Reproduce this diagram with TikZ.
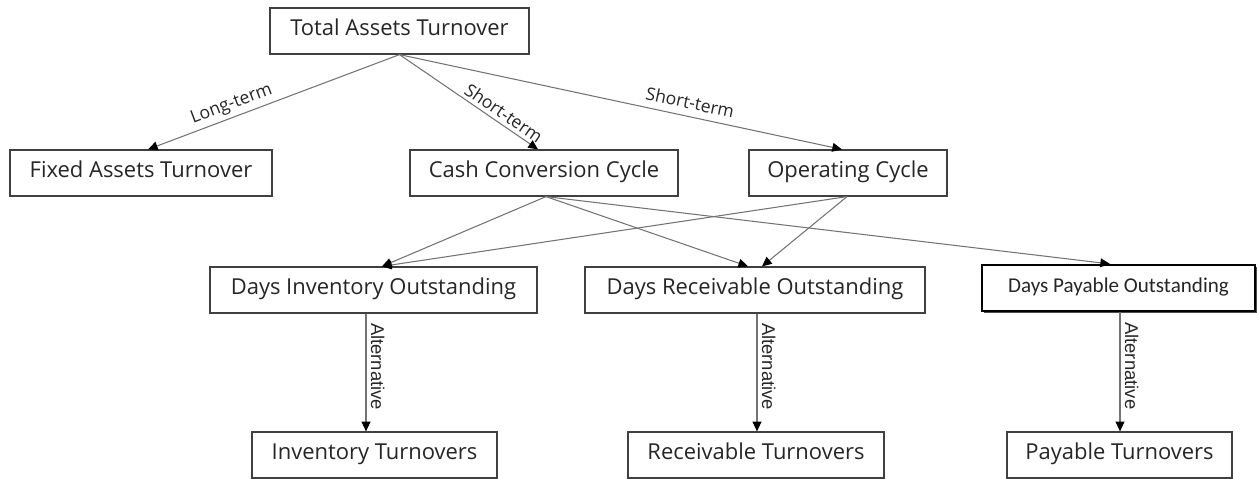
\documentclass[tikz,border=0pt]{standalone}
\usepackage{fontspec}
\setmainfont{Open Sans}
\newfontfamily\calfont{Carlito}
\newfontfamily\arialfont{Liberation Sans}
\usetikzlibrary{arrows.meta,calc,shadows}

\tikzset{
  box/.style={draw=black!75, line width=0.7pt, fill=white, inner sep=0pt,
    minimum height=0.92cm, text=black!85, text height=0.75em, text depth=0.25em,
    font=\fontsize{12.5}{14}\selectfont},
  link/.style={draw=black!55, line width=0.6pt,
    -{Triangle[length=5.5pt,width=5pt,color=black]}},
  lbl/.style={font=\fontsize{10}{12}\selectfont, text=black!85, inner sep=2pt},
  altlbl/.style={font=\arialfont\fontsize{10.5}{12}\selectfont, text=black!85,
    rotate=-90, anchor=south, inner sep=2.5pt}
}

\begin{document}
\begin{tikzpicture}[x=0.02cm, y=-0.02cm]
  \useasboundingbox (0,0) rectangle (1257,479);

  % Top of the tree
  \node[box, minimum width=5.18cm] (tat) at (399.5,31) {Total Assets Turnover};

  % Second row
  \node[box, minimum width=5.24cm] (fat) at (141,173) {Fixed Assets Turnover};
  \node[box, minimum width=5.36cm] (ccc) at (544,173) {Cash Conversion Cycle};
  \node[box, minimum width=3.96cm] (opc) at (848,173) {Operating Cycle};

  % Third row: the days measures
  \node[box, minimum width=6.54cm] (dio) at (373.5,290) {Days Inventory Outstanding};
  \node[box, minimum width=6.8cm] (dro) at (755,290) {Days Receivable Outstanding};
  \node[box, draw=black, line width=1.2pt, minimum width=5.46cm,
    font=\calfont\fontsize{12}{14}\selectfont,
    drop shadow={shadow xshift=1.2pt, shadow yshift=-1.2pt, fill=black!70, opacity=1}]
    (dpo) at (1118.5,288) {Days Payable Outstanding};

  % Bottom row: the turnovers
  \node[box, minimum width=4.9cm] (invt) at (374.5,455) {Inventory Turnovers};
  \node[box, minimum width=5.12cm] (rect) at (756,455) {Receivable Turnovers};
  \node[box, minimum width=4.5cm] (payt) at (1119.5,455) {Payable Turnovers};

  % Connectors from the top
  \draw[link] (tat.south) -- node[lbl, sloped, above, pos=0.65] {Long-term}
    ($(fat.north)+(7,0)$);
  \draw[link] (tat.south) -- node[lbl, sloped, above, pos=0.71] {Short-term}
    ($(ccc.north)+(-6,0)$);
  \draw[link] (tat.south) -- node[lbl, sloped, above=4pt, pos=0.65, inner sep=0pt] {Short-term}
    ($(opc.north)+(-6,0)$);

  % Cycles to the days measures
  \coordinate (cccout) at ($(ccc.south)+(2,0)$);
  \coordinate (opcout) at ($(opc.south)+(-1,0)$);
  \draw[link] (cccout) -- ($(dio.north)+(8.5,0)$);
  \draw[link] (cccout) -- ($(dro.north)+(-7,0)$);
  \draw[link] (cccout) -- ($(dpo.north)+(-8.5,0)$);
  \draw[link] (opcout) -- ($(dio.north)+(8.5,0)$);
  \draw[link] (opcout) -- ($(dro.north)+(7,0)$);

  % Alternatives
  \coordinate (dioout) at ($(dio.south)+(-7.5,0)$);
  \coordinate (droout) at ($(dro.south)+(2,0)$);
  \coordinate (dpoout) at ($(dpo.south)+(1.5,0)$);
  \draw[link] (dioout) -- node[altlbl, pos=0.45] {Alternative} (dioout |- invt.north);
  \draw[link] (droout) -- node[altlbl, pos=0.45] {Alternative} (droout |- rect.north);
  \draw[link] (dpoout) -- node[altlbl, pos=0.45] {Alternative} (dpoout |- payt.north);
\end{tikzpicture}
\end{document}
